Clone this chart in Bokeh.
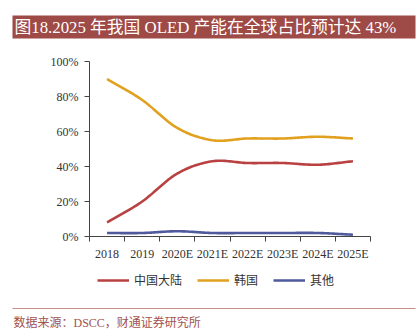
import numpy as np
from bokeh.plotting import figure
from bokeh.models import Range1d, FixedTicker, Legend, LegendItem, Label
from bokeh.embed import file_html
from bokeh.resources import INLINE

# ---- data ----
categories = ["2018", "2019", "2020E", "2021E", "2022E", "2023E", "2024E", "2025E"]
china = [8, 20, 36, 43, 42, 42, 41, 43]
korea = [90, 78, 62, 55, 56, 56, 57, 56]
others = [2, 2, 3, 2, 2, 2, 2, 1]
series_names = ["中国大陆", "韩国", "其他"]
y_ticks = [0, 20, 40, 60, 80, 100]
y_tick_labels = ["0%", "20%", "40%", "60%", "80%", "100%"]
title_text = "图18.2025 年我国 OLED 产能在全球占比预计达 43%"
source_text = "数据来源：DSCC，财通证券研究所"

# ---- style / layout ----
colors = ["#b94141", "#e1a11e", "#4f5a9c"]
SERIF = "'Liberation Serif', 'Noto Sans CJK SC'"
CJK = "'Noto Sans CJK SC'"
AXIS_COLOR = "#444444"
LABEL_COLOR = "#333333"

W, H = 419, 335
PLOT_L, PLOT_R, PLOT_T, PLOT_B = 89, 370, 61, 236   # chart area in canvas pixels
N = len(categories)
XS = (PLOT_R - PLOT_L) / N
YS = (PLOT_B - PLOT_T) / 100.0


def x_of(px):
    return -0.5 + (px - PLOT_L) / XS


def y_of(py):
    return (PLOT_B - py) / YS


p = figure(width=W, height=H, output_backend="svg", toolbar_location=None,
           x_range=Range1d(x_of(0), x_of(W)), y_range=Range1d(y_of(H), y_of(0)),
           min_border=0, min_border_left=0, min_border_right=0,
           min_border_top=0, min_border_bottom=0)
p.outline_line_color = None
p.grid.grid_line_color = None
p.background_fill_color = "white"
p.border_fill_color = "white"


def smooth(xs, ys, n=20):
    xs = np.asarray(xs, float)
    ys = np.asarray(ys, float)
    px = np.concatenate([[2 * xs[0] - xs[1]], xs, [2 * xs[-1] - xs[-2]]])
    py = np.concatenate([[2 * ys[0] - ys[1]], ys, [2 * ys[-1] - ys[-2]]])
    ox, oy = [], []
    for i in range(1, len(px) - 2):
        t = np.linspace(0, 1, n, endpoint=False)
        for arr, out in ((px, ox), (py, oy)):
            p0, p1, p2, p3 = arr[i - 1], arr[i], arr[i + 1], arr[i + 2]
            out.extend(0.5 * ((2 * p1) + (-p0 + p2) * t
                              + (2 * p0 - 5 * p1 + 4 * p2 - p3) * t ** 2
                              + (-p0 + 3 * p1 - 3 * p2 + p3) * t ** 3))
    ox.append(xs[-1]); oy.append(ys[-1])
    return ox, oy


xs = list(range(N))
items = []
for name, vals, c in zip(series_names, [china, korea, others], colors):
    sx, sy = smooth(xs, vals)
    r = p.line(sx, sy, line_color=c, line_width=2.6, line_join="round")
    items.append(LegendItem(label=name, renderers=[r]))

# x axis at y=0
xa = p.xaxis[0]
xa.fixed_location = 0
xa.bounds = (-0.5, N - 0.5)
xa.ticker = FixedTicker(ticks=xs, minor_ticks=[i - 0.5 for i in range(N + 1)])
xa.major_label_overrides = {i: c for i, c in enumerate(categories)}
xa.major_tick_line_color = None
xa.minor_tick_out = 5
xa.minor_tick_in = 0
xa.minor_tick_line_color = AXIS_COLOR
xa.axis_line_color = AXIS_COLOR
xa.major_label_standoff = 4
xa.major_label_text_font = SERIF
xa.major_label_text_font_size = "12px"
xa.major_label_text_color = LABEL_COLOR

# y axis at left edge of the category band
ya = p.yaxis[0]
ya.fixed_location = -0.5
ya.bounds = (0, 100)
ya.ticker = FixedTicker(ticks=y_ticks)
ya.major_label_overrides = {t: l for t, l in zip(y_ticks, y_tick_labels)}
ya.major_tick_out = 5
ya.major_tick_in = 0
ya.major_tick_line_color = AXIS_COLOR
ya.minor_tick_line_color = None
ya.axis_line_color = AXIS_COLOR
ya.major_label_standoff = 6
ya.major_label_text_font = SERIF
ya.major_label_text_font_size = "12px"
ya.major_label_text_color = LABEL_COLOR

# legend
legend = Legend(items=items, orientation="horizontal", location=(97, H - 288),
                glyph_width=32, glyph_height=14, label_standoff=5, spacing=15,
                padding=0, margin=0, border_line_color=None,
                background_fill_alpha=0,
                label_text_font=CJK, label_text_font_size="12px",
                label_text_color=LABEL_COLOR)
p.add_layout(legend, "center")

# title bar
p.quad(left=[x_of(12)], right=[x_of(415)], top=[y_of(15)], bottom=[y_of(38)],
       fill_color="#9e4a46", line_color=None)
p.add_layout(Label(x=x_of(14), y=y_of(27), text=title_text, text_font=SERIF,
                   text_font_size="16.8px", text_color="white",
                   text_baseline="middle", text_align="left"))

# footer rule and source
p.segment(x0=[x_of(12)], x1=[x_of(415)], y0=[y_of(308)], y1=[y_of(308)],
          line_color="#c98d8a", line_width=1)
p.add_layout(Label(x=x_of(13), y=y_of(322), text=source_text, text_font=SERIF,
                   text_font_size="12px", text_color="#a3524d",
                   text_baseline="middle", text_align="left"))

open("out.html", "w").write(file_html(p, INLINE))
